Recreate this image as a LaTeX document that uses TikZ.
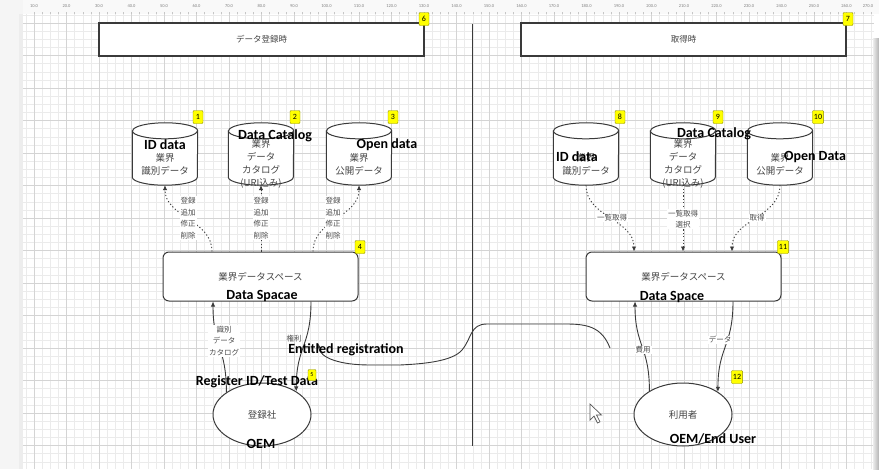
\documentclass[tikz,border=0pt]{standalone}
\usepackage{fontspec}
\setmainfont{Carlito}
\newfontfamily\jpfont{Noto Sans CJK JP}
\usetikzlibrary{shapes.geometric}
\usetikzlibrary{calc}
\usetikzlibrary{arrows.meta}
\definecolor{grdminor}{HTML}{EBEBEB}
\definecolor{grdmajor}{HTML}{D4D4D4}
\definecolor{shpline}{HTML}{3A3A3A}
\definecolor{jptxt}{HTML}{444444}
\definecolor{lbltxt}{HTML}{4D4D4D}
\definecolor{tagfill}{HTML}{FFFF00}
\definecolor{tagline}{HTML}{8C8C00}
\newcommand{\grdstep}{32.5}
\newcommand{\grdsub}{8.125}
\newcommand{\grdxo}{34}
\newcommand{\grdyo}{23}
\newcommand{\dbxa}{165}
\newcommand{\dbxb}{261}
\newcommand{\dbxc}{359}
\newcommand{\dbxd}{586}
\newcommand{\dbxe}{683}
\newcommand{\dbxf}{780}
\newcommand{\dby}{154}
\newcommand{\dbtxty}{164}
\newcommand{\lbly}{218}
\newcommand{\dsxa}{260.5}
\newcommand{\dsxb}{683.5}
\newcommand{\dsy}{276.5}
\newcommand{\usrxa}{262}
\newcommand{\usrxb}{683}
\newcommand{\usry}{414.5}
\newcommand{\drum}[1]{%
  \draw[shpline,fill=white,line width=1pt]
    ($(#1.north west)+(0,8)$) -- ($(#1.south west)+(0,-8)$)
    arc[start angle=180,end angle=0,x radius=32.5,y radius=8]
    -- ($(#1.north east)+(0,8)$)
    arc[start angle=0,end angle=-180,x radius=32.5,y radius=8] -- cycle;
  \draw[shpline,line width=1pt] ($(#1.north west)+(0,8)$)
    arc[start angle=180,end angle=0,x radius=32.5,y radius=8];}

\begin{document}
\begin{tikzpicture}[x=1pt,y=-1pt,
    jp/.style={font=\jpfont\fontsize{9.5}{13}\selectfont,text=jptxt,
      align=center,inner sep=0pt},
    lbl/.style={font=\jpfont\fontsize{7.5}{11.5}\selectfont,text=lbltxt,
      align=center,inner sep=1pt,fill=white},
    en/.style={font=\bfseries\fontsize{14}{16}\selectfont,text=black,
      inner sep=0pt},
    tag/.style={draw=tagline,fill=tagfill,rounded corners=1pt,
      font=\fontsize{8}{8}\selectfont,inner sep=1.5pt,
      minimum width=10pt,minimum height=13pt},
    dbbox/.style={rectangle,inner sep=0pt,minimum width=65pt,
      minimum height=62pt},
    dspace/.style={rectangle,draw=shpline,fill=white,line width=1pt,
      rounded corners=6pt,minimum width=195pt,minimum height=49pt,
      font=\jpfont\fontsize{9.5}{12}\selectfont,text=jptxt},
    usr/.style={ellipse,draw=shpline,fill=white,line width=1pt,
      minimum width=98pt,minimum height=63pt,
      font=\jpfont\fontsize{9.5}{12}\selectfont,text=jptxt},
    hdr/.style={rectangle,draw=shpline,fill=white,line width=1.2pt,
      minimum width=325pt,minimum height=33pt,
      font=\jpfont\fontsize{8.5}{10}\selectfont,text=jptxt},
    dotarr/.style={draw=shpline,line width=0.9pt,
      dash pattern=on 1.2pt off 2.2pt,-{Latex[length=5pt,width=4.5pt]}},
    solarr/.style={draw=shpline,line width=0.9pt,
      -{Latex[length=5pt,width=4.5pt]}},
    rlr/.style={font=\fontsize{4.5}{5}\selectfont,text=gray,inner sep=0pt}]
  \useasboundingbox (0,0) rectangle (879,469);
  \fill[white] (0,0) rectangle (879,469);
  \fill[gray!8] (0,0) rectangle (23,469);
  \fill[gray!14] (19,14) rectangle (23,469);
  \fill[gray!5] (23,0) rectangle (879,14);

  \begin{scope}
    \clip (23,14) rectangle (874,469);
    \foreach \k in {-2,...,105}
      \draw[grdminor,line width=0.5pt] ({\grdxo+\grdsub*\k},14) -- ({\grdxo+\grdsub*\k},469);
    \foreach \k in {-2,...,57}
      \draw[grdminor,line width=0.5pt] (23,{\grdyo+\grdsub*\k}) -- (874,{\grdyo+\grdsub*\k});
    \foreach \k in {-1,...,26}
      \draw[grdmajor,line width=0.6pt] ({\grdxo+\grdstep*\k},14) -- ({\grdxo+\grdstep*\k},469);
    \foreach \k in {-1,...,14}
      \draw[grdmajor,line width=0.6pt] (23,{\grdyo+\grdstep*\k}) -- (874,{\grdyo+\grdstep*\k});
  \end{scope}
  \foreach \k in {0,...,104}
    \draw[gray!45,line width=0.3pt] ({\grdxo+\grdsub*\k},12) -- ({\grdxo+\grdsub*\k},14);
  \foreach \k in {1,...,26}
    \node[rlr] at ({\grdxo+\grdstep*(\k-1)},6) {\k0.0};
  \node[rlr] at (868,6) {270.0};
  \shade[left color=gray!15,right color=gray!60] (873,38) rectangle (879,469);

  \node[hdr] (hdra) at (261.5,39.5) {データ登録時};
  \node[hdr] (hdrb) at (683.5,39.5) {取得時};
  \draw[shpline,line width=1pt] (472,24) -- (472,446);

  \node[dbbox] (dba) at (\dbxa,\dby) {};
  \node[dbbox] (dbb) at (\dbxb,\dby) {};
  \node[dbbox] (dbc) at (\dbxc,\dby) {};
  \node[dbbox] (dbd) at (\dbxd,\dby) {};
  \node[dbbox] (dbe) at (\dbxe,\dby) {};
  \node[dbbox] (dbf) at (\dbxf,\dby) {};
  \drum{dba} \drum{dbb} \drum{dbc}
  \drum{dbd} \drum{dbe} \drum{dbf}
  \node[jp] (dbatx) at (\dbxa,\dbtxty) {業界\\識別データ};
  \node[jp] (dbbtx) at (\dbxb,\dbtxty) {業界\\データ\\カタログ\\(URI込み)};
  \node[jp] (dbctx) at (\dbxc,\dbtxty) {業界\\公開データ};
  \node[jp] (dbdtx) at (\dbxd,\dbtxty) {業界\\識別データ};
  \node[jp] (dbetx) at (\dbxe,\dbtxty) {業界\\データ\\カタログ\\(URI込み)};
  \node[jp] (dbftx) at (\dbxf,\dbtxty) {業界\\公開データ};

  \node[dspace] (dsa) at (\dsxa,\dsy) {業界データスペース};
  \node[dspace] (dsb) at (\dsxb,\dsy) {業界データスペース};
  \node[usr] (usra) at (\usrxa,\usry) {登録社};
  \node[usr] (usrb) at (\usrxb,\usry) {利用者};

  \draw[dotarr] ($(dsa.north)+(-48.5,0)$) .. controls +(0,-32) and +(0,32) .. (dba.south);
  \draw[dotarr] (dsa.north -| dbb.south) -- (dbb.south);
  \draw[dotarr] ($(dsa.north)+(52.5,0)$) .. controls +(0,-32) and +(0,32) .. (dbc.south);
  \draw[dotarr] (dbd.south) .. controls +(0,32) and +(0,-32) .. ($(dsb.north)+(-49.5,0)$);
  \draw[dotarr] (dbe.south) -- (dbe.south |- dsb.north);
  \draw[dotarr] (dbf.south) .. controls +(0,32) and +(0,-32) .. ($(dsb.north)+(48.5,0)$);
  \node[lbl] (opsa) at (188,\lbly) {登録\\追加\\修正\\削除};
  \node[lbl] (opsb) at (261,\lbly) {登録\\追加\\修正\\削除};
  \node[lbl] (opsc) at (333,\lbly) {登録\\追加\\修正\\削除};
  \node[lbl] (getd) at (612,\lbly) {一覧取得};
  \node[lbl] (gete) at (683,219) {一覧取得\\選択};
  \node[lbl] (getf) at (757,\lbly) {取得};

  \draw[solarr] (usra.148) .. controls +(0,-45) and +(0,45) .. ($(dsa.south)+(-47.5,0)$);
  \draw[solarr] ($(dsa.south)+(50.5,0)$) .. controls +(0,45) and +(0,-45) .. (usra.34);
  \draw[solarr] (usrb.145) .. controls +(0,-45) and +(0,45) .. ($(dsb.south)+(-48.5,0)$);
  \draw[solarr] ($(dsb.south)+(49.5,0)$) .. controls +(0,45) and +(0,-45) .. (usrb.33);
  \node[lbl] (idcat) at (224,341) {識別\\データ\\カタログ};
  \node[lbl,fill=none] (right) at (294,339) {権利};
  \node[lbl] (cost) at (643,350) {費用};
  \node[lbl] (data) at (720,340) {データ};

  \coordinate (entfrom) at (610,348);
  \coordinate (entto) at (318,343);
  \draw[solarr] (entfrom) .. controls (600,322) and (580,324) .. (553,324)
    -- (487,324) .. controls (470,324) and (472,338) .. (462,350)
    .. controls (452,362) and (420,364) .. (400,365) -- (370,365)
    .. controls (340,365) and (320,358) .. (entto);

  \node[en] (dbaen) at (165,145) {ID data};
  \node[en] (dbben) at (275,136) {Data Catalog};
  \node[en] (dbcen) at (387,145) {Open data};
  \node[en] (dbden) at (577,157) {ID data};
  \node[en] (dbeen) at (714,134) {Data Catalog};
  \node[en] (dbfen) at (815,157) {Open Data};
  \node[en] (dsaen) at (262,296) {Data Spacae};
  \node[en] (dsben) at (672,297) {Data Space};
  \node[en] (regen) at (257,382) {Register ID/Test Data};
  \node[en] (entren) at (346,350) {Entitled registration};
  \node[en] (usraen) at (261,444) {OEM};
  \node[en] (usrben) at (713,439) {OEM/End User};

  \node[tag] (tga) at (198,117) {1};
  \node[tag] (tgb) at (295,117) {2};
  \node[tag] (tgc) at (393,117) {3};
  \node[tag] (tgd) at (360,247) {4};
  \node[tag,minimum width=8pt,minimum height=11pt,
    font=\fontsize{6}{6}\selectfont] (tge) at (312,375) {5};
  \node[tag] (tgf) at (424,19) {6};
  \node[tag] (tgg) at (848,19) {7};
  \node[tag] (tgh) at (620,117) {8};
  \node[tag] (tgi) at (718,117) {9};
  \node[tag] (tgj) at (818,117) {10};
  \node[tag] (tgk) at (783,247) {11};
  \node[tag] (tgl) at (737,377) {12};

  \draw[fill=white,draw=gray!70!black,line width=0.7pt] (590,404) -- ++(0,16)
    -- ++(4,-4) -- ++(3.5,7) -- ++(2.5,-1.2) -- ++(-3.5,-6.8) -- ++(5,0) -- cycle;
\end{tikzpicture}
\end{document}
